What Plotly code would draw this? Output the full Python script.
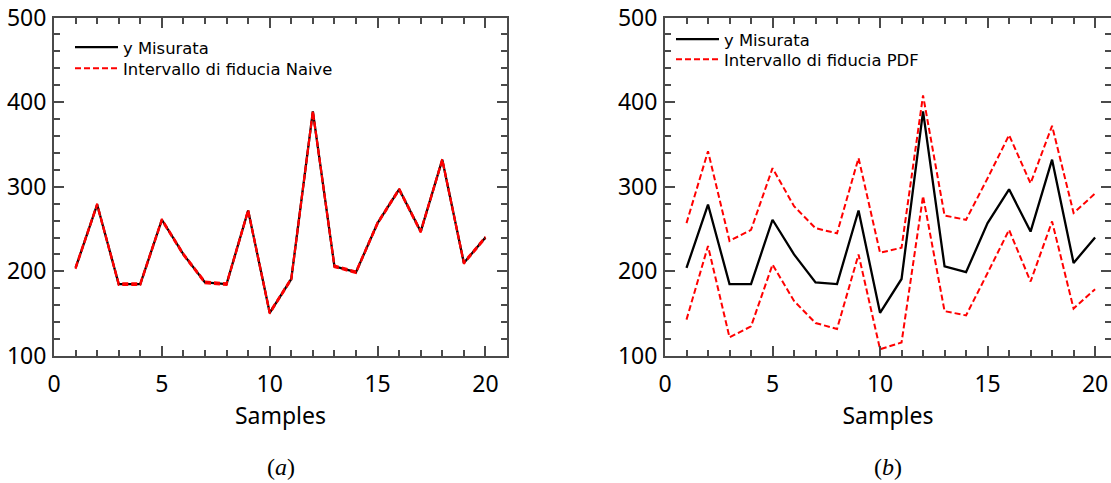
import plotly.graph_objects as go

# Sample index
samples = list(range(1, 21))

# Measured output
y_misurata = [204, 279, 185, 185, 261, 220, 187, 185, 272, 151,
              191, 389, 206, 199, 257, 297, 247, 332, 210, 240]

# Naive confidence interval (very tight around the measurement)
naive_upper = [205, 280, 186, 186, 262, 221, 188, 186, 273, 152,
               192, 390, 207, 200, 258, 298, 248, 333, 211, 241]
naive_lower = [203, 278, 184, 184, 260, 219, 186, 184, 271, 150,
               190, 388, 205, 198, 256, 296, 246, 331, 209, 239]

# PDF-based confidence interval
pdf_upper = [257, 342, 236, 249, 322, 277, 251, 245, 334, 222,
             228, 408, 266, 261, 310, 361, 304, 372, 269, 292]
pdf_lower = [143, 230, 122, 135, 208, 165, 139, 132, 220, 108,
             116, 289, 153, 148, 198, 249, 188, 259, 156, 179]

AXFONT = "Noto Sans, DejaVu Sans, sans-serif"
REG = "DejaVu Sans, sans-serif"
AXIS_COLOR = "#4a4a4a"
RED = "#ff0000"
DASH = "6px,3px"

fig = go.Figure()

# ---- panel (a)
fig.add_trace(go.Scatter(x=samples, y=y_misurata, mode="lines", name="y Misurata",
                         line=dict(color="black", width=2.3),
                         xaxis="x", yaxis="y", legend="legend"))
fig.add_trace(go.Scatter(x=samples, y=naive_upper, mode="lines",
                         name="Intervallo di fiducia Naive", legendgroup="naive",
                         line=dict(color=RED, width=2, dash=DASH),
                         xaxis="x", yaxis="y", legend="legend2"))
fig.add_trace(go.Scatter(x=samples, y=naive_lower, mode="lines",
                         name="Intervallo di fiducia Naive", legendgroup="naive",
                         showlegend=False,
                         line=dict(color=RED, width=2, dash=DASH),
                         xaxis="x", yaxis="y", legend="legend2"))

# ---- panel (b)
fig.add_trace(go.Scatter(x=samples, y=y_misurata, mode="lines", name="y Misurata",
                         line=dict(color="black", width=2.3),
                         xaxis="x2", yaxis="y2", legend="legend3"))
fig.add_trace(go.Scatter(x=samples, y=pdf_upper, mode="lines",
                         name="Intervallo di fiducia PDF", legendgroup="pdf",
                         line=dict(color=RED, width=2, dash=DASH),
                         xaxis="x2", yaxis="y2", legend="legend4"))
fig.add_trace(go.Scatter(x=samples, y=pdf_lower, mode="lines",
                         name="Intervallo di fiducia PDF", legendgroup="pdf",
                         showlegend=False,
                         line=dict(color=RED, width=2, dash=DASH),
                         xaxis="x2", yaxis="y2", legend="legend4"))
# placeholder trace so the right-hand tick axis of panel (b) is rendered
fig.add_trace(go.Scatter(x=[None], y=[None], mode="lines", showlegend=False,
                         hoverinfo="skip", xaxis="x2", yaxis="y3"))

W, H = 1111, 483
y_dom = [(H - 356) / H, (H - 17.5) / H]

common_x = dict(
    tick0=0, dtick=5, ticks="inside", ticklen=10, tickwidth=1.6, tickcolor=AXIS_COLOR,
    minor=dict(dtick=1, ticks="inside", ticklen=6, tickwidth=1.6, tickcolor=AXIS_COLOR),
    showline=True, linecolor=AXIS_COLOR, linewidth=2, mirror="ticks",
    showgrid=False, zeroline=False, automargin=False,
    tickfont=dict(family=AXFONT, size=23, color="black"),
    title=dict(text="Samples", font=dict(family=AXFONT, size=23, color="black"), standoff=4),
    ticklabelstandoff=6,
)
common_y = dict(
    range=[100, 500], tick0=100, dtick=100, ticks="inside", ticklen=10, tickwidth=1.6,
    tickcolor=AXIS_COLOR,
    minor=dict(dtick=20, ticks="inside", ticklen=6, tickwidth=1.6, tickcolor=AXIS_COLOR),
    showline=True, linecolor=AXIS_COLOR, linewidth=2,
    showgrid=False, zeroline=False, automargin=False,
    tickfont=dict(family=AXFONT, size=23, color="black"),
    ticklabelstandoff=1,
)

legend_common = dict(
    font=dict(family=REG, size=16.4, color="black"),
    bgcolor="rgba(0,0,0,0)", borderwidth=0,
    xanchor="left", yanchor="top", itemwidth=43,
)

fig.update_layout(
    width=W, height=H,
    margin=dict(l=0, r=0, t=0, b=0, autoexpand=False),
    paper_bgcolor="white", plot_bgcolor="white",
    showlegend=True,
    xaxis=dict(domain=[54 / W, 507 / W], range=[0, 21], anchor="y", **common_x),
    yaxis=dict(domain=y_dom, anchor="x", mirror="ticks", **common_y),
    xaxis2=dict(domain=[665 / W, 1.0], range=[0, 20.74], anchor="y2", **common_x),
    yaxis2=dict(domain=y_dom, anchor="x2", mirror=False, **common_y),
    yaxis3=dict(range=[100, 500], tick0=100, dtick=100, overlaying="y2", anchor="free",
                position=1.0, side="right", ticks="inside", ticklen=10, tickwidth=1.6,
                tickcolor=AXIS_COLOR,
                minor=dict(dtick=20, ticks="inside", ticklen=6, tickwidth=1.6,
                           tickcolor=AXIS_COLOR),
                showline=False, showgrid=False, zeroline=False, showticklabels=False,
                automargin=False),
    legend=dict(x=70 / W, y=1 - 30 / H, **legend_common),
    legend2=dict(x=70 / W, y=1 - 51 / H, **legend_common),
    legend3=dict(x=671 / W, y=1 - 22 / H, **legend_common),
    legend4=dict(x=671 / W, y=1 - 42 / H, **legend_common),
    annotations=[
        dict(text="(<i>a</i>)", x=(54 + 507) / 2 / W, y=1 - 467 / H, xref="paper", yref="paper",
             xanchor="center", yanchor="middle", showarrow=False,
             font=dict(family="Liberation Serif, serif", size=24, color="black")),
        dict(text="(<i>b</i>)", x=(665 + 1111) / 2 / W, y=1 - 467 / H, xref="paper", yref="paper",
             xanchor="center", yanchor="middle", showarrow=False,
             font=dict(family="Liberation Serif, serif", size=24, color="black")),
    ],
)

fig.write_html("out.html")
